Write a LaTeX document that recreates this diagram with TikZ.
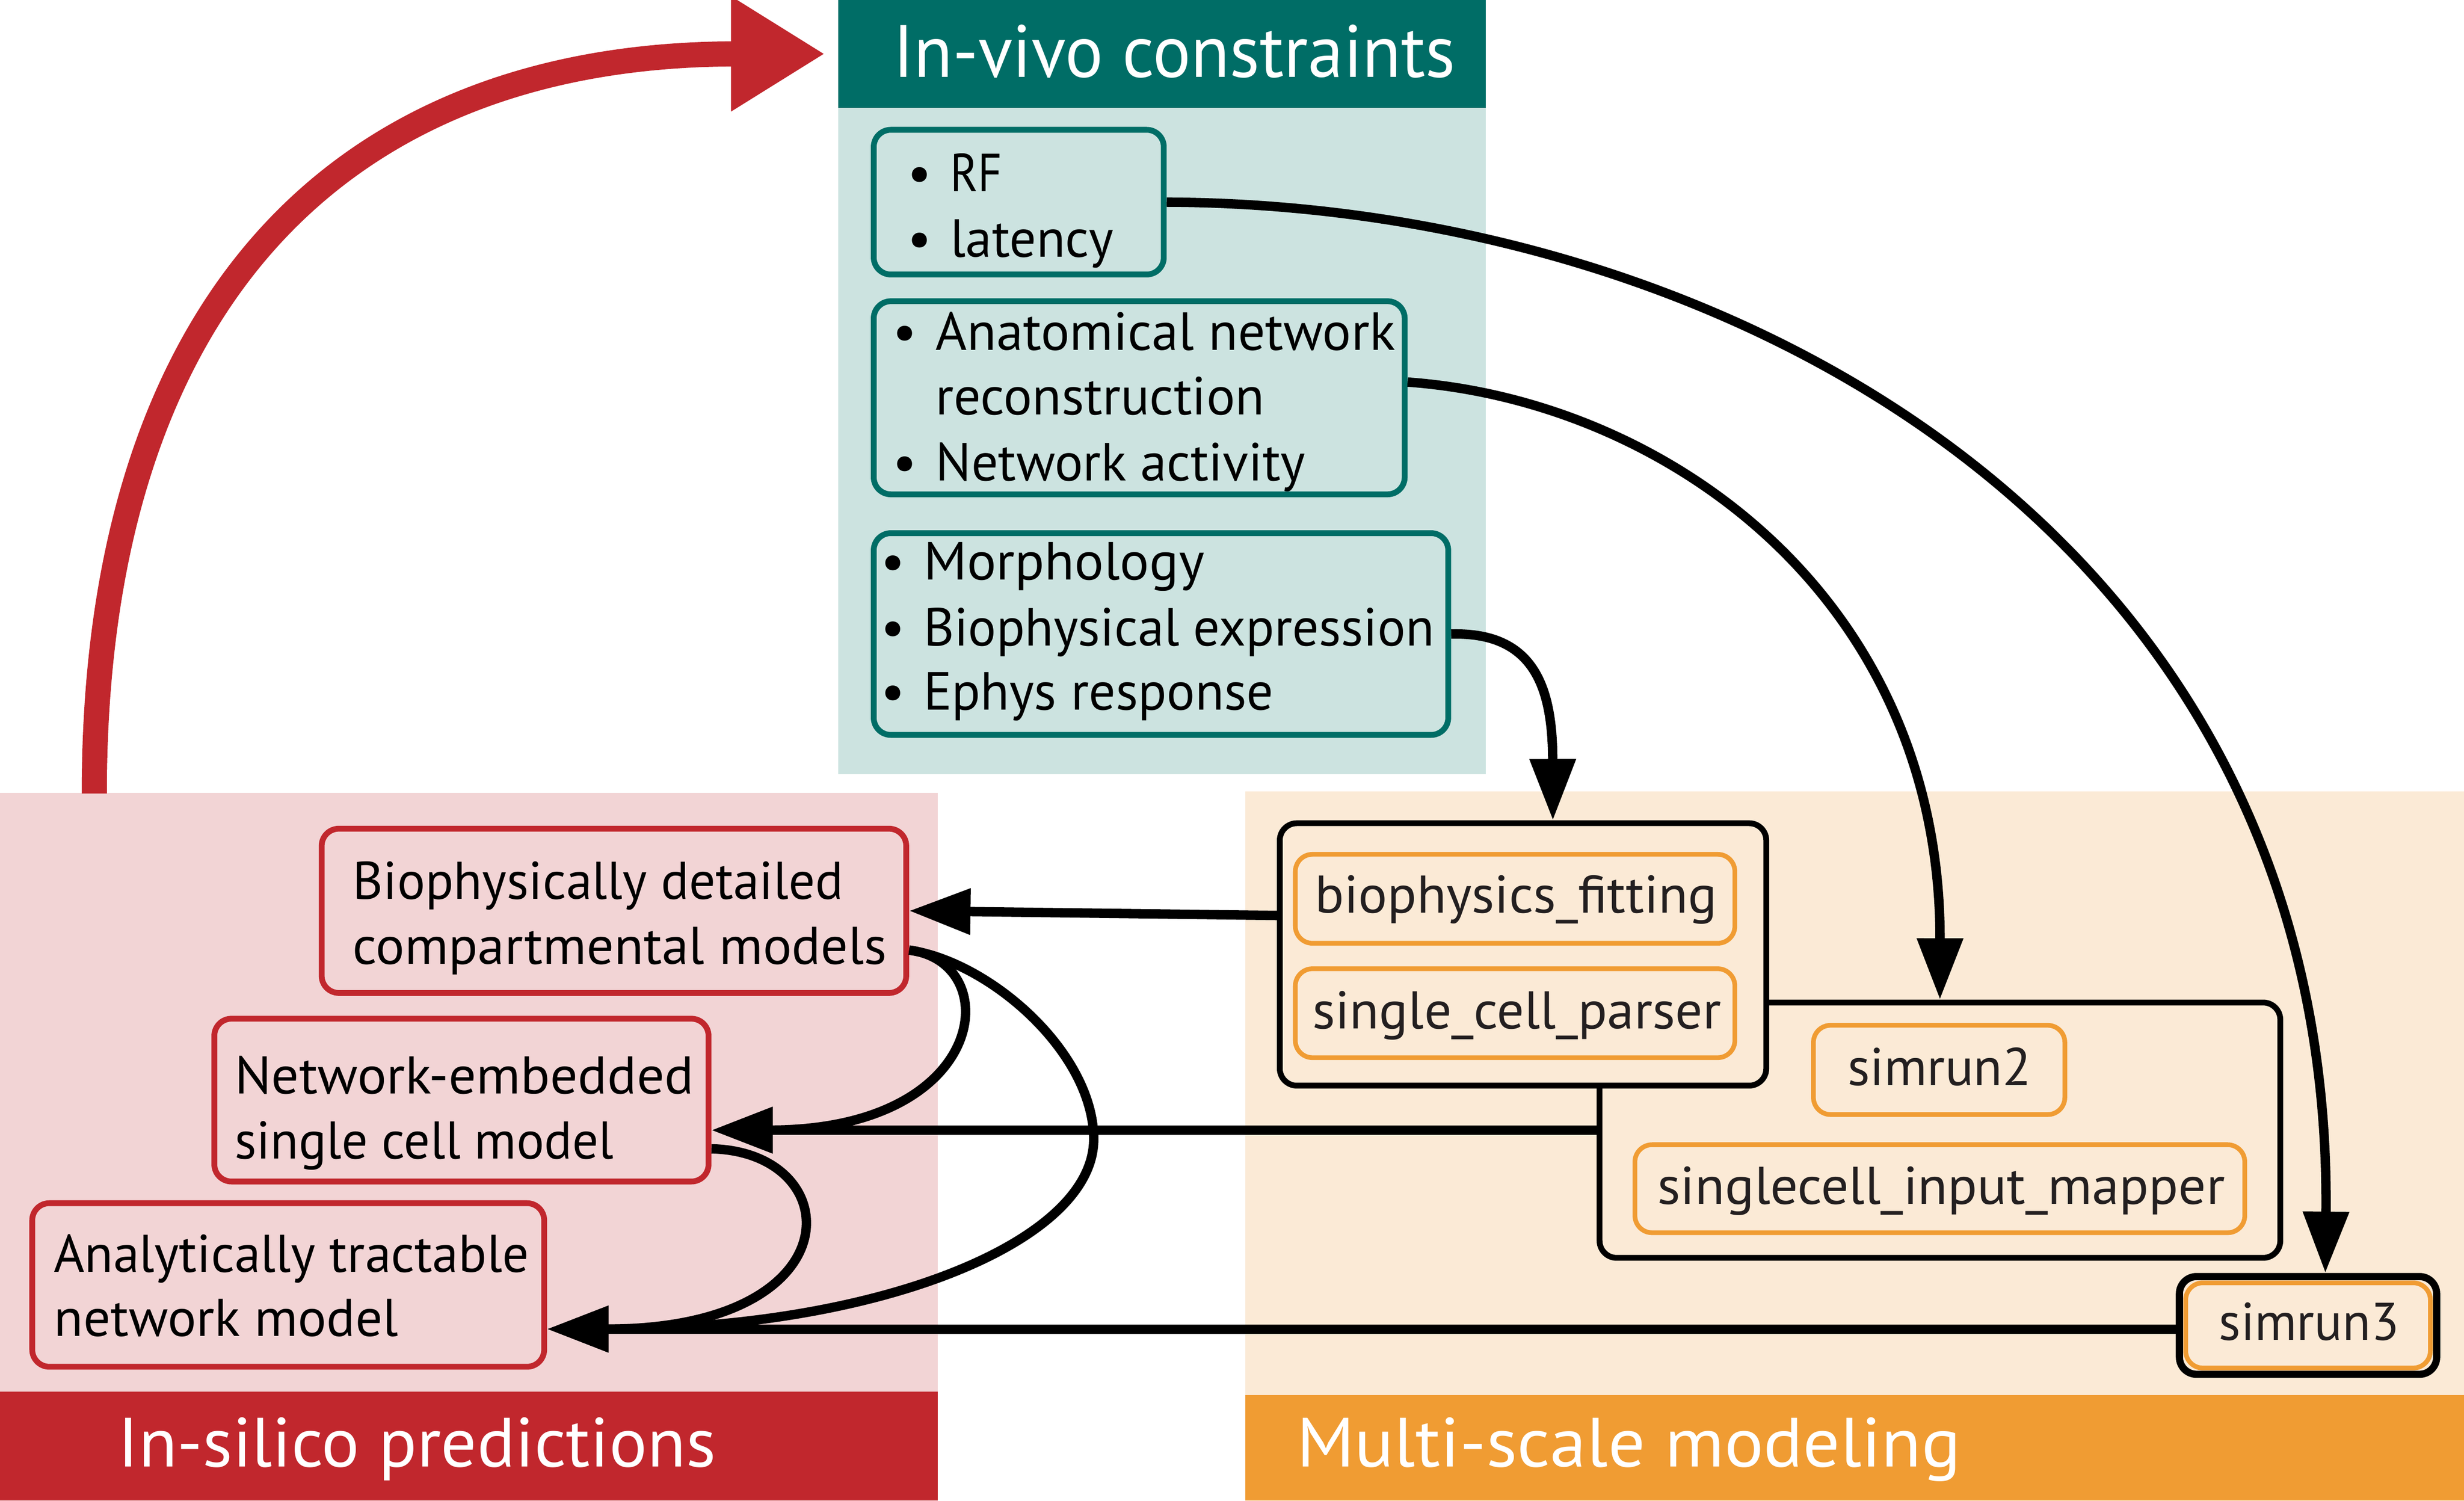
\documentclass[tikz,border=0pt]{standalone}
\usepackage{fontspec}
\usepackage{graphicx}
\setmainfont{PT Sans}
\usetikzlibrary{arrows.meta,fit,calc}
\definecolor{tealD}{HTML}{006D66}
\definecolor{tealL}{HTML}{CCE3E0}
\definecolor{redD}{HTML}{C1272D}
\definecolor{redL}{HTML}{F2D4D5}
\definecolor{orD}{HTML}{F09C33}
\definecolor{orL}{HTML}{FBEAD6}
\definecolor{txtD}{HTML}{231F20}
\newsavebox\fitbox
\newlength\fitlen
\newcommand\fitto[2]{\sbox\fitbox{#2}\setlength\fitlen{\wd\fitbox}\pgfmathsetmacro\fitratio{#1*0.284528/\fitlen}\scalebox{\fitratio}[1]{\usebox\fitbox}}
\newcommand\bul{\llap{\makebox[11.1pt]{\textbullet}}}
\tikzset{
  tbox/.style={draw=tealD, line width=1.05pt, rounded corners=3.1pt, inner sep=0pt},
  rbox/.style={draw=redD, line width=1.05pt, rounded corners=3.1pt, inner sep=0pt},
  kbox/.style={draw=black, fill=orL, line width=1.05pt, rounded corners=3.1pt, inner sep=0pt},
  obox/.style={draw=orD, line width=0.85pt, rounded corners=3.1pt, inner sep=0pt},
  conn/.style={line width=1.7pt, -{Triangle[length=11.1pt,width=8pt]}},
  ttxt/.style={anchor=base west, inner sep=0pt, font=\fontsize{9.7pt}{11pt}\selectfont},
  rtxt/.style={anchor=base west, inner sep=0pt, font=\fontsize{9.6pt}{11pt}\selectfont},
  otxt/.style={anchor=base west, inner sep=0pt, text=txtD, font=\fontsize{9.6pt}{11pt}\selectfont},
  ttl/.style={anchor=base west, inner sep=0pt, text=white},
}
\begin{document}
\begin{tikzpicture}[x=0.01cm, y=-0.01cm, line join=round]
\useasboundingbox (0,0) rectangle (1568,955);
% backgrounds
\fill[tealL] (533.3,68.6) rectangle (945.4,492.8);
\fill[tealD] (533.3,0) rectangle (945.4,68.6);
\fill[redL] (0,504.5) rectangle (596.7,885.7);
\fill[redD] (0,885.7) rectangle (596.7,955);
\fill[orL] (792.6,503.7) rectangle (1568,887.7);
\fill[orD] (792.6,887.7) rectangle (1568,955);
% red feedback arrow
\coordinate (rs) at (60,505);
\coordinate (rt) at (525,34.3);
\draw[redD, line width=4.55pt, -{Triangle[length=17pt,width=19.6pt]}] (rs) .. controls (60,200) and (210,34.3) .. (rt);
% boxes
\node[tbox, fit={(556,82.6) (740.6,174.7)}] (rf) {};
\node[tbox, fit={(556,191.7) (893.9,314.6)}] (an) {};
\node[tbox, fit={(556,339.3) (921.6,467.7)}] (mo) {};
\node[rbox, fit={(204.7,527.4) (576.7,631.9)}] (b1) {};
\node[rbox, fit={(136.4,648.3) (450.9,751.9)}] (b2) {};
\node[rbox, fit={(20.5,765.7) (346.3,869.8)}] (b3) {};
\node[kbox, fit={(1017.9,638) (1451.1,800.5)}] (bB) {};
\node[kbox, fit={(814.4,523.9) (1124,690.9)}] (bA) {};
\node[obox, fit={(824.3,543.7) (1104,600.3)}] (bf) {};
\node[obox, fit={(824.3,616.5) (1104,673.1)}] (scp) {};
\node[obox, fit={(1154,652.5) (1314,709.3)}] (sr2) {};
\node[obox, fit={(1040.4,728.5) (1428.5,784.5)}] (sim) {};
\node[kbox, line width=1.3pt, fit={(1386.9,812.4) (1550.6,874.6)}] (s3) {};
\node[obox, fit={(1390.9,816.4) (1546.6,870.6)}] (s3i) {};
% connectors
\coordinate (s3in) at ($(s3.west)+(0,2.3)$);
\coordinate (b1out) at ($(b1.east)+(0,25)$);
\coordinate (b2out) at ($(b2.east)+(0,31)$);
\draw[conn] (rf.east) .. controls (1100,130) and (1485,340) .. ($(s3.north)+(11,0)$);
\draw[conn] ($(an.east)+(0,-10)$) .. controls (1060,255) and (1235,380) .. (bB.north);
\draw[conn] (mo.east) .. controls (978,402) and (988,440) .. ($(bA.north)+(19,0)$);
\draw[conn] ($(bA.west)+(0,-24.8)$) -- (b1.east);
\draw[conn] (bB.west) -- (bB.west -| b2.east);
\draw[conn] (s3in) -- (s3in -| b3.east);
\draw[conn] (b1out) .. controls (640,612) and (630,719) .. (bB.west -| b2.east);
\draw[conn] (b1out) .. controls (630,612) and (696,670) .. (696,725) .. controls (696,790) and (560,846) .. (s3in -| b3.east);
\draw[conn] (b2out) .. controls (540,733) and (545,846) .. (s3in -| b3.east);
% titles
\node[ttl, font=\fontsize{13.4pt}{15pt}\selectfont] (tiv) at (567.6,49.2) {\fitto{357.7}{In-vivo constraints}};
\node[ttl, font=\fontsize{12.6pt}{15pt}\selectfont] (tis) at (74.3,933.4) {\fitto{380.3}{In-silico predictions}};
\node[ttl, font=\fontsize{12.6pt}{15pt}\selectfont] (tms) at (824.4,933.4) {\fitto{422.5}{Multi-scale modeling}};
% teal texts
\node[ttxt] (rf1) at (604,121.7) {\bul\fitto{33}{RF}};
\node[ttxt] (rf2) at (604,163.5) {\bul\fitto{103.7}{latency}};
\node[ttxt] (an1) at (594.7,222.7) {\bul\fitto{292.3}{Anatomical network}};
\node[ttxt] (an2) at (594.7,263.8) {\fitto{209.2}{reconstruction}};
\node[ttxt] (an3) at (594.7,305.9) {\bul\fitto{235.2}{Network activity}};
\node[ttxt] (mo1) at (587,369) {\bul\fitto{178.6}{Morphology}};
\node[ttxt] (mo2) at (587,411.1) {\bul\fitto{324.9}{Biophysical expression}};
\node[ttxt] (mo3) at (587,451.6) {\bul\fitto{222.6}{Ephys response}};
% red texts
\node[rtxt] (b1a) at (223.8,572.3) {\fitto{312}{Biophysically detailed}};
\node[rtxt] (b1b) at (223.8,613.6) {\fitto{339.7}{compartmental models}};
\node[rtxt] (b2a) at (148.6,696.1) {\fitto{292.1}{Network-embedded}};
\node[rtxt] (b2b) at (148.6,737.4) {\fitto{241.1}{single cell model}};
\node[rtxt] (b3a) at (33.7,809.6) {\fitto{302}{Analytically tractable}};
\node[rtxt] (b3b) at (33.7,850.3) {\fitto{218.9}{network model}};
% orange texts
\node[otxt] (bft) at (836,581.1) {\fitto{256}{biophysics\_fitting}};
\node[otxt] (scpt) at (834.5,654.8) {\fitto{260}{single\_cell\_parser}};
\node[otxt] (sr2t) at (1175,690.8) {\fitto{117}{simrun2}};
\node[otxt] (simt) at (1054,766.3) {\fitto{361}{singlecell\_input\_mapper}};
\node[otxt] (s3t) at (1411.4,852.9) {\fitto{114.6}{simrun3}};
\end{tikzpicture}
\end{document}
